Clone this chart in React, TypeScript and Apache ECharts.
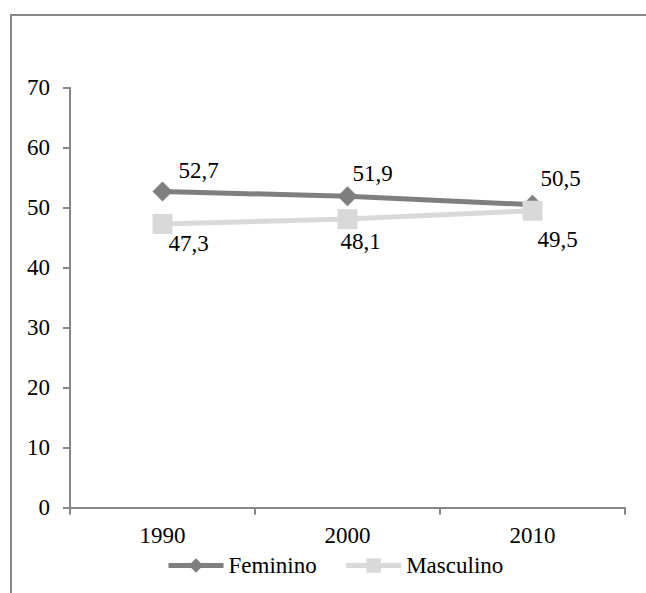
import React, { useEffect, useRef } from "react";
import * as echarts from "echarts";

// Years on the category axis
const years = ["1990", "2000", "2010"];
// Share of population (%) per sex
const feminino = [52.7, 51.9, 50.5];
const masculino = [47.3, 48.1, 49.5];
// Value axis range
const yMin = 0;
const yMax = 70;
const yStep = 10;

// Label placement around each point, in px (dx, dy)
const femininoLabelOffsets: [number, number][] = [[36, -21], [25, -23], [28, -26]];
const masculinoLabelOffsets: [number, number][] = [[26, 20], [13, 22], [25, 29]];

const FONT = '"Liberation Serif", "Times New Roman", Times, serif';
const AXIS_GREY = "#878787";
const DARK = "#7f7f7f";
const LIGHT = "#d9d9d9";

const fmt = (v: number) => String(v).replace(".", ",");

function buildData(values: number[], offsets: [number, number][]) {
  return values.map((v, i) => ({
    value: v,
    label: { offset: offsets[i] },
  }));
}

export default function App() {
  const ref = useRef<HTMLDivElement>(null);

  useEffect(() => {
    if (!ref.current) return;
    const chart = echarts.init(ref.current, undefined, { renderer: "svg" });

    const labelBase = {
      show: true,
      position: "inside" as const,
      align: "center",
      verticalAlign: "middle",
      color: "#000",
      fontFamily: FONT,
      fontSize: 23,
      formatter: (p: any) => fmt(p.value),
    };

    chart.setOption({
      animation: false,
      backgroundColor: "#fff",
      textStyle: { fontFamily: FONT },
      grid: { left: 70, right: 21, top: 87.7, bottom: 85.3, containLabel: false },
      xAxis: {
        type: "category",
        data: years,
        boundaryGap: true,
        axisLine: { lineStyle: { color: AXIS_GREY, width: 2 } },
        axisTick: { show: true, length: 7, lineStyle: { color: AXIS_GREY, width: 2 } },
        axisLabel: { color: "#000", fontFamily: FONT, fontSize: 23, margin: 16 },
        splitLine: { show: false },
      },
      yAxis: {
        type: "value",
        min: yMin,
        max: yMax,
        interval: yStep,
        axisLine: { show: true, lineStyle: { color: AXIS_GREY, width: 2 } },
        axisTick: { show: true, length: 7, lineStyle: { color: AXIS_GREY, width: 2 } },
        axisLabel: { color: "#000", fontFamily: FONT, fontSize: 23, margin: 20 },
        splitLine: { show: false },
      },
      legend: {
        left: 161,
        top: 549,
        itemWidth: 55,
        itemHeight: 18,
        itemGap: 27,
        textStyle: { color: "#000", fontFamily: FONT, fontSize: 23 },
        data: [
          { name: "Feminino", lineStyle: { width: 5, color: DARK } },
          { name: "Masculino", lineStyle: { width: 5, color: LIGHT } },
        ],
      },
      graphic: [
        {
          type: "line",
          shape: { x1: 10, y1: 15, x2: 646, y2: 15 },
          style: { stroke: AXIS_GREY, lineWidth: 2 },
          silent: true,
        },
        {
          type: "line",
          shape: { x1: 11, y1: 15, x2: 11, y2: 593 },
          style: { stroke: AXIS_GREY, lineWidth: 2 },
          silent: true,
        },
      ],
      series: [
        {
          name: "Feminino",
          type: "line",
          data: buildData(feminino, femininoLabelOffsets),
          symbol: "diamond",
          symbolSize: 20,
          lineStyle: { color: DARK, width: 5 },
          itemStyle: { color: DARK },
          label: labelBase,
        },
        {
          name: "Masculino",
          type: "line",
          data: buildData(masculino, masculinoLabelOffsets),
          symbol: "rect",
          symbolSize: 20,
          lineStyle: { color: LIGHT, width: 5 },
          itemStyle: { color: LIGHT },
          label: labelBase,
        },
      ],
    });

    return () => chart.dispose();
  }, []);

  return (
    <div
      ref={ref}
      style={{ position: "fixed", left: 0, top: 0, width: 646, height: 593, background: "#fff" }}
    />
  );
}
